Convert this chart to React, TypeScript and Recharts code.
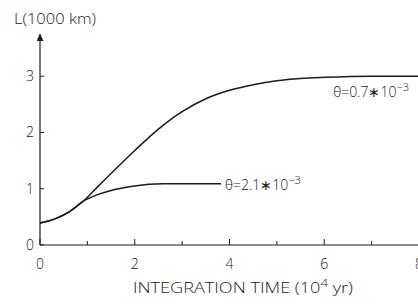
import { LineChart, Line, XAxis, YAxis, LabelList, Label } from "recharts";

// theta = 0.7e-3 run
const slowTime = [0, 0.3, 0.6, 0.9, 1.2, 1.5, 2.0, 2.5, 3.0, 3.5, 4.0, 4.5, 5.0, 5.5, 6.0, 7.0, 8.0];
const slowL = [0.39, 0.46, 0.58, 0.77, 1.02, 1.27, 1.68, 2.06, 2.37, 2.6, 2.75, 2.85, 2.92, 2.96, 2.98, 3.0, 3.0];

// theta = 2.1e-3 run
const fastTime = [0, 0.3, 0.6, 0.9, 1.2, 1.5, 2.0, 2.3, 2.6, 3.0, 3.5, 3.82];
const fastL = [0.39, 0.46, 0.58, 0.77, 0.89, 0.97, 1.05, 1.08, 1.09, 1.09, 1.09, 1.09];

const xTicks = [0, 1, 2, 3, 4, 5, 6, 7, 8];
const yTicks = [0, 1, 2, 3];

const slowData = slowTime.map((t, i) => ({ t, L: slowL[i] }));
const fastData = fastTime.map((t, i) => ({ t, L: fastL[i] }));

const ink = "#1a1a1a";
const font = "'Open Sans', 'Liberation Sans', sans-serif";

function XTick(props: any) {
  const { x, y, payload } = props;
  const major = payload.value % 2 === 0;
  return (
    <g>
      <line x1={x} y1={y} x2={x} y2={y - (major ? 6 : 4)} stroke={ink} strokeWidth={1} />
      {major && (
        <text x={x} y={y + 24} textAnchor="middle" fontSize={14} fontWeight={300} fill={ink} fontFamily={font}>
          {payload.value}
        </text>
      )}
    </g>
  );
}

function YTick(props: any) {
  const { x, y, payload } = props;
  return (
    <g>
      <line x1={x} y1={y} x2={x + 4} y2={y} stroke={ink} strokeWidth={1} />
      <text x={x - 6} y={y + 5} textAnchor="end" fontSize={14} fontWeight={300} fill={ink} fontFamily={font}>
        {payload.value}
      </text>
    </g>
  );
}

function thetaLabel(text: string, dx: number, dy: number, anchor: "start" | "end", last: number) {
  return (props: any) => {
    if (props.index !== last) return null;
    const { x, y } = props;
    return (
      <text x={x + dx} y={y + dy} textAnchor={anchor} fontSize={14} fontWeight={300} fill={ink} fontFamily={font}>
        {text}
        <tspan dy={-6} fontSize={11}>−3</tspan>
      </text>
    );
  };
}

export default function App() {
  return (
    <div style={{ position: "absolute", left: 0, top: 0, width: 418, height: 304, overflow: "hidden", background: "#fff" }}>
      <LineChart width={440} height={304} margin={{ top: 34, right: 21, bottom: 0, left: 0 }}>
        <defs>
          <marker
            id="axisArrow"
            viewBox="0 0 10 10"
            refX={10}
            refY={5}
            markerWidth={12}
            markerHeight={7}
            markerUnits="userSpaceOnUse"
            orient="auto-start-reverse"
          >
            <path d="M0,0 L10,5 L0,10 z" fill={ink} />
          </marker>
        </defs>
        <XAxis
          type="number"
          dataKey="t"
          domain={[0, 8]}
          ticks={xTicks}
          height={59}
          tickSize={0}
          tickMargin={0}
          tickLine={false}
          axisLine={{ stroke: ink, strokeWidth: 1.2 }}
          tick={XTick}
          interval={0}
        >
          <Label
            content={() => (
              <text x={133} y={293} fontSize={15} fontWeight={300} fill={ink} fontFamily={font} textLength={220} lengthAdjust="spacingAndGlyphs">
                INTEGRATION  TIME (10<tspan dy={-6} fontSize={11}>4</tspan><tspan dy={6}> yr)</tspan>
              </text>
            )}
          />
        </XAxis>
        <YAxis
          type="number"
          domain={[0, 3.75]}
          ticks={yTicks}
          width={40}
          tickSize={0}
          tickMargin={0}
          tickLine={false}
          axisLine={{ stroke: ink, strokeWidth: 1.2, markerStart: "url(#axisArrow)" }}
          tick={YTick}
          interval={0}
        >
          <Label
            content={() => (
              <text x={14} y={24} fontSize={15} fontWeight={300} fill={ink} fontFamily={font} textLength={82} lengthAdjust="spacingAndGlyphs">
                L(1000 km)
              </text>
            )}
          />
        </YAxis>
        <Line
          data={slowData}
          dataKey="L"
          type="monotone"
          stroke={ink}
          strokeWidth={1.5}
          dot={false}
          isAnimationActive={false}
        >
          <LabelList dataKey="L" content={thetaLabel("θ=0.7∗10", -10, 21, "end", slowData.length - 1)} />
        </Line>
        <Line
          data={fastData}
          dataKey="L"
          type="monotone"
          stroke={ink}
          strokeWidth={1.5}
          dot={false}
          isAnimationActive={false}
        >
          <LabelList dataKey="L" content={thetaLabel("θ=2.1∗10", 4, 6, "start", fastData.length - 1)} />
        </Line>
      </LineChart>
    </div>
  );
}
